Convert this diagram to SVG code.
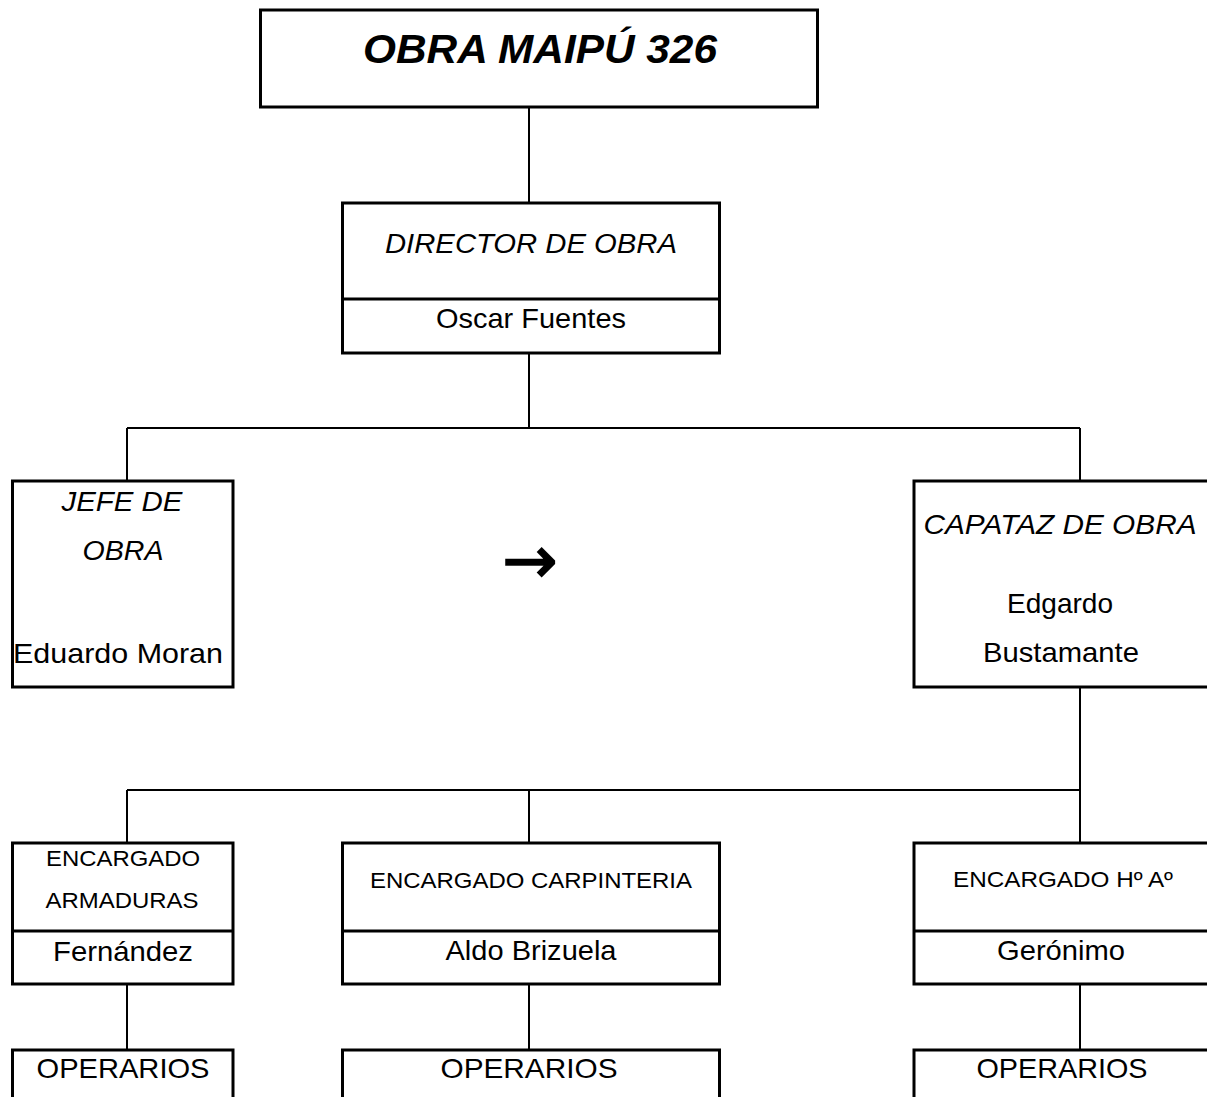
<svg xmlns="http://www.w3.org/2000/svg" width="1207" height="1097" viewBox="0 0 1207 1097">
<style>
.box{fill:#fff;stroke:#000;stroke-width:3}
.div{stroke:#000;stroke-width:3}
.con{stroke:#000;stroke-width:2;fill:none}
text{font-family:"Liberation Sans",Arial,sans-serif;fill:#000;text-anchor:middle}
.big{font-size:28px}
.it{font-style:italic}
.sm{font-size:22px}
.title{font-size:40px;font-weight:bold;font-style:italic}
</style>
<rect width="1207" height="1097" fill="#fff"/>
<g id="connectors">
<line class="con" x1="529" y1="107" x2="529" y2="203"/>
<line class="con" x1="529" y1="353" x2="529" y2="428"/>
<line class="con" x1="127" y1="428" x2="1080" y2="428"/>
<line class="con" x1="127" y1="428" x2="127" y2="481"/>
<line class="con" x1="1080" y1="428" x2="1080" y2="481"/>
<line class="con" x1="1080" y1="687" x2="1080" y2="790"/>
<line class="con" x1="127" y1="790" x2="1080" y2="790"/>
<line class="con" x1="127" y1="790" x2="127" y2="843"/>
<line class="con" x1="529" y1="790" x2="529" y2="843"/>
<line class="con" x1="1080" y1="790" x2="1080" y2="843"/>
<line class="con" x1="127" y1="984" x2="127" y2="1050"/>
<line class="con" x1="529" y1="984" x2="529" y2="1050"/>
<line class="con" x1="1080" y1="984" x2="1080" y2="1050"/>
</g>
<g id="obra">
<rect class="box" x="260.5" y="10" width="557" height="97"/>
<text class="title" x="540" y="63" textLength="354" lengthAdjust="spacingAndGlyphs">OBRA MAIPÚ 326</text>
</g>
<g id="director">
<rect class="box" x="342.5" y="203" width="377" height="150"/>
<line class="div" x1="342.5" y1="299" x2="719.5" y2="299"/>
<text class="big it" x="531" y="253" textLength="292" lengthAdjust="spacingAndGlyphs">DIRECTOR DE OBRA</text>
<text class="big" x="531" y="328" textLength="190" lengthAdjust="spacingAndGlyphs">Oscar Fuentes</text>
</g>
<g id="jefe">
<rect class="box" x="12.5" y="481" width="220.5" height="206"/>
<text class="big it" x="122" y="511" textLength="121" lengthAdjust="spacingAndGlyphs">JEFE DE</text>
<text class="big it" x="123" y="560" textLength="81" lengthAdjust="spacingAndGlyphs">OBRA</text>
<text class="big" x="118" y="663" textLength="210" lengthAdjust="spacingAndGlyphs">Eduardo Moran</text>
</g>
<g id="arrow">
<text x="530" y="583" style="font-family:'DejaVu Sans',sans-serif;font-size:66px;stroke:#000;stroke-width:1.6">→</text>
</g>
<g id="capataz">
<rect class="box" x="914" y="481" width="300" height="206"/>
<text class="big it" x="1060" y="534" textLength="273" lengthAdjust="spacingAndGlyphs">CAPATAZ DE OBRA</text>
<text class="big" x="1060" y="613" textLength="106" lengthAdjust="spacingAndGlyphs">Edgardo</text>
<text class="big" x="1061" y="662" textLength="156" lengthAdjust="spacingAndGlyphs">Bustamante</text>
</g>
<g id="enc-armaduras">
<rect class="box" x="12.5" y="843" width="220.5" height="141"/>
<line class="div" x1="12.5" y1="931" x2="233" y2="931"/>
<text class="sm" x="123" y="866" textLength="154" lengthAdjust="spacingAndGlyphs">ENCARGADO</text>
<text class="sm" x="122" y="908" textLength="153" lengthAdjust="spacingAndGlyphs">ARMADURAS</text>
<text class="big" x="123" y="961" textLength="140" lengthAdjust="spacingAndGlyphs">Fernández</text>
</g>
<g id="enc-carpinteria">
<rect class="box" x="342.5" y="843" width="377" height="141"/>
<line class="div" x1="342.5" y1="931" x2="719.5" y2="931"/>
<text class="sm" x="531" y="888" textLength="322" lengthAdjust="spacingAndGlyphs">ENCARGADO CARPINTERIA</text>
<text class="big" x="531" y="960" textLength="171" lengthAdjust="spacingAndGlyphs">Aldo Brizuela</text>
</g>
<g id="enc-ha">
<rect class="box" x="914" y="843" width="300" height="141"/>
<line class="div" x1="914" y1="931" x2="1214" y2="931"/>
<text class="sm" x="1063" y="887" textLength="220" lengthAdjust="spacingAndGlyphs">ENCARGADO Hº Aº</text>
<text class="big" x="1061" y="960" textLength="128" lengthAdjust="spacingAndGlyphs">Gerónimo</text>
</g>
<g id="operarios-1">
<rect class="box" x="12.5" y="1050" width="220.5" height="60"/>
<text class="big" x="123" y="1078" textLength="173" lengthAdjust="spacingAndGlyphs">OPERARIOS</text>
</g>
<g id="operarios-2">
<rect class="box" x="342.5" y="1050" width="377" height="60"/>
<text class="big" x="529" y="1078" textLength="177" lengthAdjust="spacingAndGlyphs">OPERARIOS</text>
</g>
<g id="operarios-3">
<rect class="box" x="914" y="1050" width="300" height="60"/>
<text class="big" x="1062" y="1078" textLength="171" lengthAdjust="spacingAndGlyphs">OPERARIOS</text>
</g>
</svg>
